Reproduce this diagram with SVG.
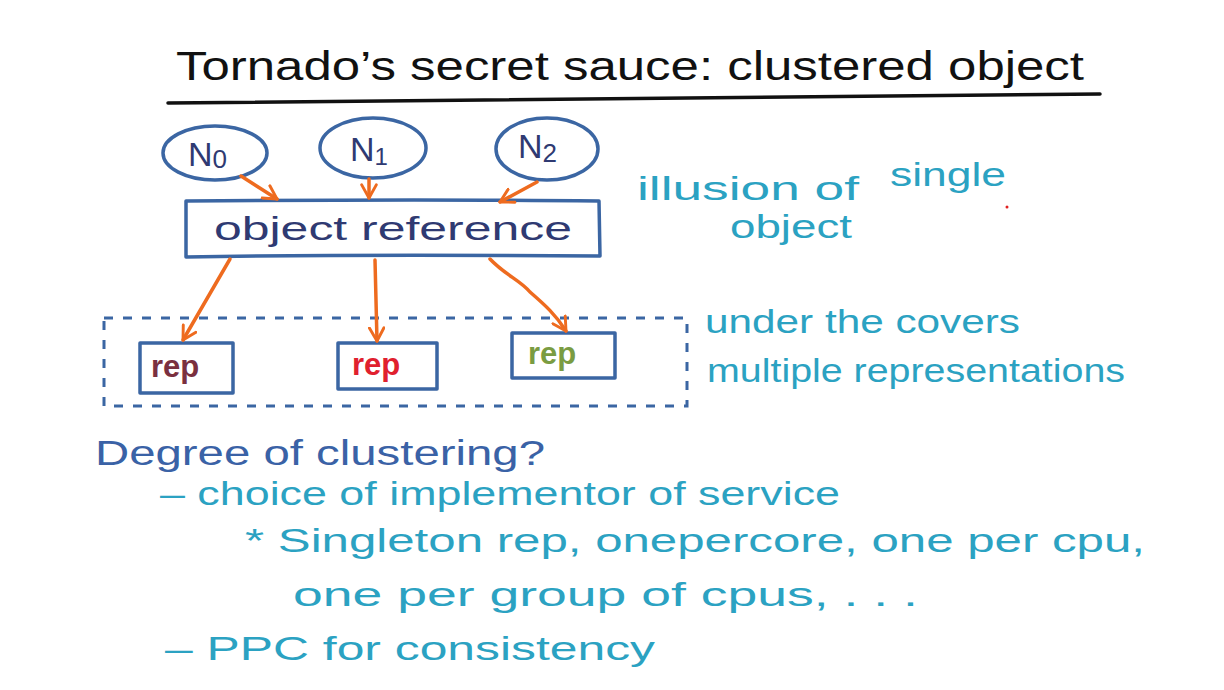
<svg xmlns="http://www.w3.org/2000/svg" width="1224" height="690" viewBox="0 0 1224 690">
<defs>
<style>
.t{font-family:"Liberation Sans",Arial,sans-serif}
.title{font-size:40px;fill:#111}
.node{fill:none;stroke:#3b66a3;stroke-width:3.5;stroke-linejoin:round}
.nlab{font-size:34px;fill:#2f3a72}
.conn{fill:none;stroke:#ee6b1f;stroke-width:3.5;stroke-linecap:round}
.teal{fill:#2ba2c2;font-size:34px}
.blue{fill:#3a62a6;font-size:35px}
.rep{font-size:31px;font-weight:bold}
</style>
<marker id="ah" viewBox="0 0 12 12" refX="10" refY="6" markerWidth="5" markerHeight="5" orient="auto" markerUnits="strokeWidth">
<path d="M1,1 L10,6 L1,11" fill="none" stroke="#ee6b1f" stroke-width="2" stroke-linecap="round" stroke-linejoin="round"/>
</marker>
</defs>
<rect width="1224" height="690" fill="#fff"/>

<g id="title">
<text class="t title" x="176" y="80" textLength="908" lengthAdjust="spacingAndGlyphs">Tornado’s secret sauce: clustered object</text>
<path d="M168,103 C400,100 700,97 1100,94" fill="none" stroke="#111" stroke-width="3.5" stroke-linecap="round"/>
</g>

<g id="n0">
<ellipse class="node" cx="215" cy="153" rx="52" ry="27"/>
<text class="t nlab" x="188" y="166">N<tspan font-size="26" dy="2">0</tspan></text>
</g>
<g id="n1">
<ellipse class="node" cx="373" cy="148" rx="53" ry="30"/>
<text class="t nlab" x="350" y="161">N<tspan font-size="24" dy="4">1</tspan></text>
</g>
<g id="n2">
<ellipse class="node" cx="547" cy="149" rx="51" ry="31"/>
<text class="t nlab" x="518" y="158">N<tspan font-size="26" dy="4">2</tspan></text>
</g>

<g id="objref">
<path class="node" d="M186,201 C300,200 450,199 599,201 L600,256 C450,255 300,255 186,257 Z"/>
<text class="t" x="214" y="240" font-size="34" fill="#2f3a72" textLength="358" lengthAdjust="spacingAndGlyphs">object reference</text>
</g>

<g id="cluster">
<rect x="104" y="318" width="583" height="88" fill="none" stroke="#3b66a3" stroke-width="3" stroke-dasharray="9,10"/>
</g>
<g id="rep1">
<rect class="node" x="140" y="343" width="93" height="50"/>
<text class="t rep" x="151" y="377" fill="#7a3040">rep</text>
</g>
<g id="rep2">
<rect class="node" x="338" y="343" width="99" height="46"/>
<text class="t rep" x="352" y="375" fill="#e0202e">rep</text>
</g>
<g id="rep3">
<rect class="node" x="512" y="333" width="103" height="45"/>
<text class="t rep" x="528" y="364" fill="#7a9c42">rep</text>
</g>

<g id="connectors">
<path class="conn" marker-end="url(#ah)" d="M241,176 L277,199"/>
<path class="conn" marker-end="url(#ah)" d="M369,179 L369,198"/>
<path class="conn" marker-end="url(#ah)" d="M537,182 L500,202"/>
<path class="conn" marker-end="url(#ah)" d="M230,259 L183,340"/>
<path class="conn" marker-end="url(#ah)" d="M375,260 L377,341"/>
<path class="conn" marker-end="url(#ah)" d="M490,259 C505,275 520,280 530,292 C545,305 556,315 566,331"/>
</g>

<g id="notes">
<text class="t teal" x="637" y="200" textLength="222" lengthAdjust="spacingAndGlyphs">illusion of</text>
<text class="t teal" x="890" y="186" textLength="116" lengthAdjust="spacingAndGlyphs">single</text>
<circle cx="1007" cy="207" r="1.5" fill="#e02020"/>
<text class="t teal" x="730" y="238" textLength="122" lengthAdjust="spacingAndGlyphs">object</text>
<text class="t teal" x="705" y="333" textLength="315" lengthAdjust="spacingAndGlyphs">under the covers</text>
<text class="t teal" x="707" y="382" textLength="418" lengthAdjust="spacingAndGlyphs">multiple representations</text>
<text class="t blue" x="95" y="465" textLength="450" lengthAdjust="spacingAndGlyphs">Degree of clustering?</text>
<text class="t teal" x="160" y="505" textLength="680" lengthAdjust="spacingAndGlyphs">– choice of implementor of service</text>
<text class="t teal" x="245" y="552" textLength="900" lengthAdjust="spacingAndGlyphs">* Singleton rep, onepercore, one per cpu,</text>
<text class="t teal" x="293" y="606" textLength="625" lengthAdjust="spacingAndGlyphs">one per group of cpus, . . .</text>
<text class="t teal" x="165" y="660" textLength="490" lengthAdjust="spacingAndGlyphs">– PPC for consistency</text>
</g>
</svg>
